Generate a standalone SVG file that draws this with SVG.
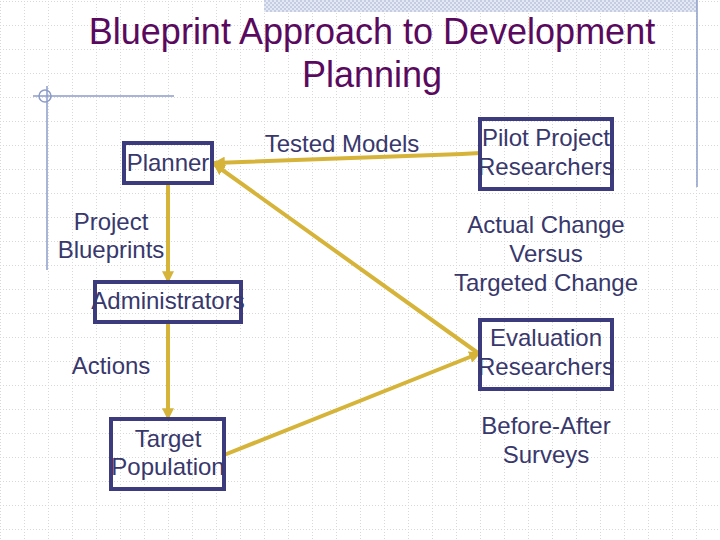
<svg xmlns="http://www.w3.org/2000/svg" width="720" height="540" viewBox="0 0 720 540">
<defs>
<pattern id="grid" x="0" y="1" width="24" height="24" patternUnits="userSpaceOnUse">
<path d="M0 0.5H24M0.5 0V24" fill="none" stroke="#d8d8d8" stroke-width="1" stroke-dasharray="1 2"/>
</pattern>
<pattern id="hatch" x="0" y="0" width="4" height="4" patternUnits="userSpaceOnUse">
<rect width="4" height="4" fill="#e4e8f2"/>
<rect width="2" height="2" fill="#c4cde2"/>
<rect x="2" y="2" width="2" height="2" fill="#c4cde2"/>
</pattern>
<marker id="arr" viewBox="0 0 10 10" refX="9" refY="5" markerWidth="3" markerHeight="3" orient="auto" markerUnits="strokeWidth">
<path d="M0 0L10 5L0 10Z" fill="#d6b43a"/>
</marker>
<style>
.t{font-family:"Liberation Sans",Arial,sans-serif;font-size:24px;fill:#38386c;text-anchor:middle}
.title{font-family:"Liberation Sans",Arial,sans-serif;font-size:36px;fill:#5a0a5e;text-anchor:middle}
.box{fill:none;stroke:#3b3b7e;stroke-width:4}
.c{fill:none;stroke:#d6b43a;stroke-width:4;marker-end:url(#arr)}
.deco{fill:none;stroke:#8c9cc8;stroke-width:1.5}
</style>
</defs>
<rect width="720" height="540" fill="#ffffff"/>
<rect width="720" height="540" fill="url(#grid)"/>
<g id="decoration">
<rect x="264" y="0" width="433" height="12" fill="url(#hatch)"/>
<line class="deco" x1="697" y1="0" x2="697" y2="187"/>
<line class="deco" x1="33" y1="96" x2="174" y2="96"/>
<line class="deco" x1="47" y1="86" x2="47" y2="270"/>
<circle class="deco" cx="45" cy="96" r="6"/>
</g>
<g id="title">
<text class="title" x="372" y="44">Blueprint Approach to Development</text>
<text class="title" x="372" y="87">Planning</text>
</g>
<g id="connectors">
<line class="c" x1="168" y1="185" x2="168" y2="282"/>
<line class="c" x1="168" y1="324" x2="168" y2="419"/>
<polyline class="c" points="480,153 462,154 214,163"/>
<line class="c" x1="478" y1="353" x2="214" y2="164"/>
<line class="c" x1="224" y1="455" x2="480" y2="353"/>
</g>
<g id="planner">
<rect class="box" x="124" y="143" width="88" height="40"/>
<text class="t" x="168" y="171">Planner</text>
</g>
<g id="project-blueprints">
<text class="t" x="111" y="230">Project</text>
<text class="t" x="111" y="258">Blueprints</text>
</g>
<g id="administrators">
<rect class="box" x="95" y="282" width="146" height="40"/>
<text class="t" x="168" y="309">Administrators</text>
</g>
<g id="actions">
<text class="t" x="111" y="374">Actions</text>
</g>
<g id="target-population">
<rect class="box" x="111" y="419" width="113" height="70"/>
<text class="t" x="168" y="447">Target</text>
<text class="t" x="168" y="475">Population</text>
</g>
<g id="tested-models">
<text class="t" x="342" y="152">Tested Models</text>
</g>
<g id="pilot-project-researchers">
<rect class="box" x="480" y="119" width="132" height="70"/>
<text class="t" x="546" y="146">Pilot Project</text>
<text class="t" x="546" y="175">Researchers</text>
</g>
<g id="actual-change">
<text class="t" x="546" y="233">Actual Change</text>
<text class="t" x="546" y="262">Versus</text>
<text class="t" x="546" y="291">Targeted Change</text>
</g>
<g id="evaluation-researchers">
<rect class="box" x="480" y="320" width="132" height="69"/>
<text class="t" x="546" y="346">Evaluation</text>
<text class="t" x="546" y="375">Researchers</text>
</g>
<g id="before-after-surveys">
<text class="t" x="546" y="434">Before-After</text>
<text class="t" x="546" y="463">Surveys</text>
</g>
</svg>
